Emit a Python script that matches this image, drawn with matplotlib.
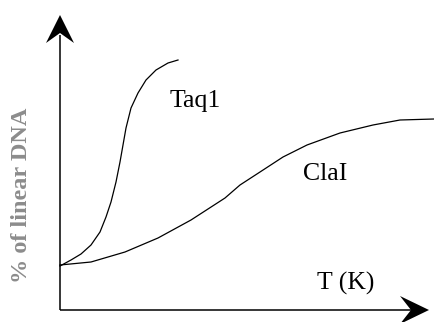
import matplotlib
matplotlib.use("Agg")
import matplotlib.pyplot as plt
from matplotlib.patches import Polygon

# Curve data (arbitrary units: T along x, % of linear DNA along y)
taq1_T = [0, 11, 21, 31, 40, 46, 51, 56, 60, 63, 66, 71, 78, 86, 96, 108, 118]
taq1_pct = [44, 50, 56, 65, 78, 93, 108, 128, 148, 165, 182, 202, 217, 230, 240, 247, 250]
clai_T = [0, 31, 65, 98, 131, 165, 180, 200, 223, 247, 280, 313, 340, 374]
clai_pct = [45, 48, 58, 72, 90, 112, 125, 138, 153, 165, 177, 185, 190, 191]

labels = ["Taq1", "ClaI"]
xlabel = "T (K)"
ylabel = "% of linear DNA"

W, H = 434, 322
fig = plt.figure(figsize=(W / 100, H / 100), dpi=100)
fig.patch.set_facecolor("white")

# main axes: origin at pixel (60, 310)
ax = fig.add_axes([60 / W, 12 / H, 374 / W, 310 / H])
ax.set_xlim(0, 374)
ax.set_ylim(0, 310)
ax.axis("off")

ax.plot(taq1_T, taq1_pct, color="black", lw=0.9, clip_on=False,
        solid_joinstyle="round")
ax.plot(clai_T, clai_pct, color="black", lw=0.9, clip_on=False,
        solid_joinstyle="round")

font = dict(family="Liberation Serif", size=18.5, color="black")
ax.text(110, 203, labels[0], ha="left", va="baseline", **font)
ax.text(243, 130, labels[1], ha="left", va="baseline", **font)
ax.text(257, 20, xlabel, ha="left", va="baseline", **font)

# overlay in pixel coordinates for axes and arrowheads
ov = fig.add_axes([0, 0, 1, 1])
ov.set_xlim(0, W)
ov.set_ylim(H, 0)
ov.axis("off")
ov.patch.set_alpha(0)

ov.plot([60, 60], [310, 35], color="black", lw=1.1, solid_capstyle="butt")
ov.plot([60, 415], [310, 310], color="black", lw=1.1, solid_capstyle="butt")
ov.add_patch(Polygon([[60, 15], [74, 43], [60, 33], [46, 43]],
                     closed=True, color="black", lw=0))
ov.add_patch(Polygon([[429, 310], [400, 296], [411, 310], [400, 324]],
                     closed=True, color="black", lw=0, clip_on=False))

ov.text(22, 195, ylabel, rotation=90, ha="center", va="center",
        family="Liberation Serif", fontweight="bold", size=17.5, color="#8c8c8c")

fig.savefig("out.png", dpi=100, facecolor="white")
